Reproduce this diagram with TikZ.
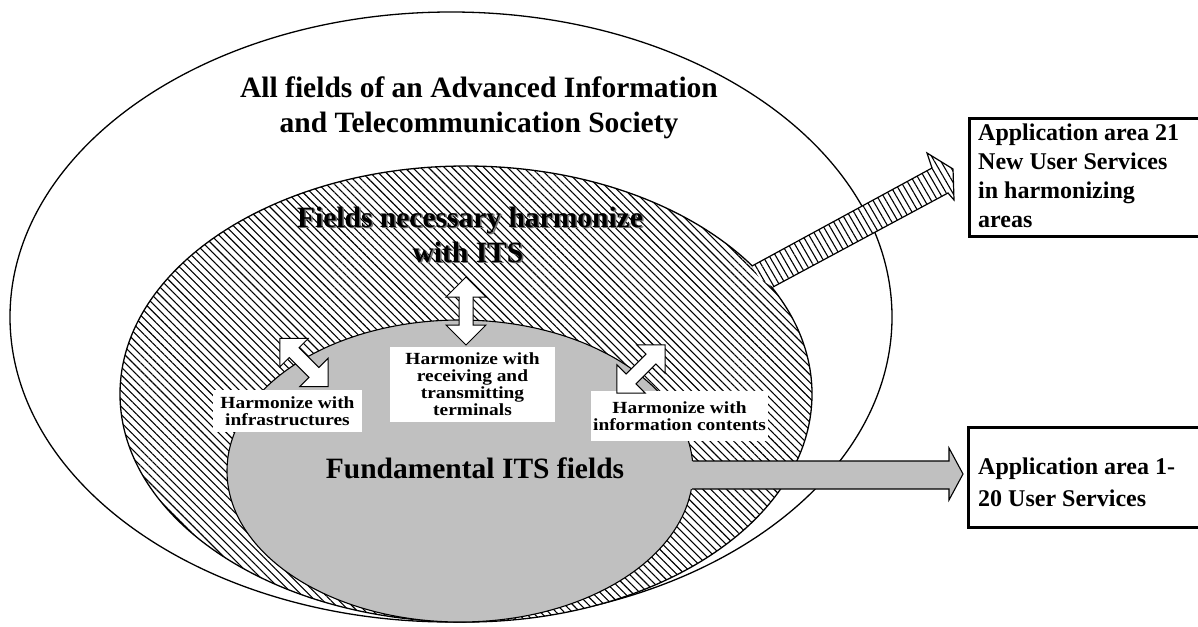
\documentclass[tikz,border=0pt]{standalone}
\usepackage{fontspec}
\setmainfont{Liberation Serif}
\newfontfamily\labelfont[FakeStretch=1.14]{Liberation Serif}
\usetikzlibrary{patterns.meta}
\definecolor{fieldgray}{RGB}{192,192,192}

\begin{document}
\begin{tikzpicture}[x=1pt,y=-1pt,
  ring/.style={draw=black,line width=1.3pt},
  hatchfill/.style={pattern={Lines[angle=-45,distance=5.6pt,line width=1.1pt]}},
  arrowhatch/.style={pattern={Lines[angle=-60,distance=5.6pt,line width=1.1pt]}},
  bigtext/.style={inner sep=0pt,font=\bfseries\fontsize{29.5}{33}\selectfont},
  lbl/.style={fill=white,inner sep=0pt,align=center,
    font=\labelfont\bfseries\fontsize{17}{17}\selectfont},
  apptext/.style={inner sep=0pt,align=left,anchor=north west},
  appframe/.style={draw=black,line width=3pt},
  harm/.pic={\draw[fill=white,line width=1pt,line join=miter]
    (34,0) -- (14,20) -- (14,7) -- (-14,7) -- (-14,20) -- (-34,0)
    -- (-14,-20) -- (-14,-7) -- (14,-7) -- (14,-20) -- cycle;}
]
\useasboundingbox (0,0) rectangle (1198,626);

% outer field: the whole information society
\draw[ring,fill=white] (451,317) ellipse [x radius=441pt,y radius=305pt];

% hatched ring of fields that must harmonize with ITS
\fill[white] (466,394) ellipse [x radius=346pt,y radius=228pt];
\fill[hatchfill] (466,394) ellipse [x radius=346pt,y radius=228pt];
\draw[ring] (466,394) ellipse [x radius=346pt,y radius=228pt];

% hatched block arrow towards application area 21
\fill[white] (752,266) -- (932,168) -- (927,153) -- (953,169) -- (954,200)
  -- (948,193) -- (773,287) -- (760,279) -- cycle;
\fill[arrowhatch] (752,266) -- (932,168) -- (927,153) -- (953,169) -- (954,200)
  -- (948,193) -- (773,287) -- (760,279) -- cycle;
\draw[line width=1.2pt,line join=miter] (752,266) -- (932,168) -- (927,153)
  -- (953,169) -- (954,200) -- (948,193) -- (773,287);

% core: fundamental ITS fields
\draw[fill=fieldgray,line width=1.1pt] (460,471) ellipse [x radius=233pt,y radius=151pt];

% grey block arrow towards application areas 1-20
\fill[fieldgray] (685,461) -- (949,461) -- (949,448) -- (963,474) -- (949,500)
  -- (949,489) -- (685,489) -- cycle;
\draw[line width=1.1pt,line join=miter] (692.5,461) -- (949,461) -- (949,448)
  -- (963,474) -- (949,500) -- (949,489) -- (692,489);

% labels of the three harmonization links
\node[lbl,minimum width=149pt,minimum height=42pt] (infra) at (287.5,411)
  {Harmonize with\\infrastructures};
\node[lbl,minimum width=165pt,minimum height=75pt] (term) at (472.5,384.5)
  {Harmonize with\\receiving and\\transmitting\\terminals};
\node[lbl,minimum width=177pt,minimum height=50pt] (cont) at (679.5,416)
  {Harmonize with\\information contents};

% two-headed harmonization arrows
\pic[rotate=-45] at (304,362.5) {harm};
\pic[rotate=90] at (466,311) {harm};
\pic[rotate=45] at (641,369) {harm};

% field titles
\node[bigtext,anchor=base] (all1) at (479,97) {All fields of an Advanced Information};
\node[bigtext,anchor=base] (all2) at (479,132) {and Telecommunication Society};
\node[bigtext,anchor=base,text=black!55] (nec1s) at (471.5,228.5) {Fields necessary harmonize};
\node[bigtext,anchor=base,text=black!55] (nec2s) at (469.5,263.5) {with ITS};
\node[bigtext,anchor=base] (nec1) at (470,227) {Fields necessary harmonize};
\node[bigtext,anchor=base] (nec2) at (468,262) {with ITS};
\node[bigtext,anchor=base] (fund) at (475,478) {Fundamental ITS fields};

% application area boxes
\draw[appframe] (969,118) rectangle (1212,236);
\node[apptext,font=\bfseries\fontsize{24}{29}\selectfont] (app21) at (978,124)
  {Application area 21\\New User Services\\in harmonizing\\areas};
\draw[appframe] (968,427) rectangle (1212,527);
\node[apptext,font=\bfseries\fontsize{24}{32}\selectfont] (app120) at (978,458)
  {Application area 1-\\20 User Services};
\end{tikzpicture}
\end{document}
